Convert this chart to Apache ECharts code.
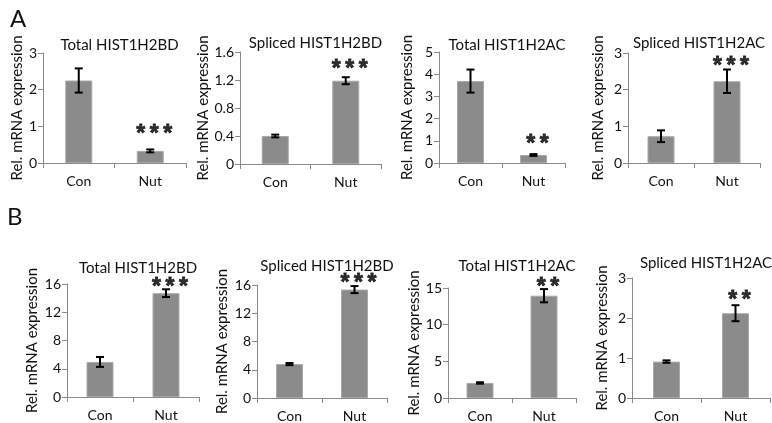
<!DOCTYPE html>
<html><head><meta charset="utf-8">
<script src="https://cdn.jsdelivr.net/npm/echarts@6/dist/echarts.min.js"></script>
<style>html,body{margin:0;padding:0;background:#fff}#c{width:772px;height:423px}</style>
</head><body><div id="c"></div>
<script>
const titles = ['Total HIST1H2BD','Spliced HIST1H2BD','Total HIST1H2AC','Spliced HIST1H2AC',
                'Total HIST1H2BD','Spliced HIST1H2BD','Total HIST1H2AC','Spliced HIST1H2AC'];
const categories = ['Con','Nut'];
const means = [[2.25,0.33],[0.40,1.19],[3.69,0.36],[0.73,2.23],[4.96,14.7],[4.8,15.35],[2.05,13.95],[0.91,2.12]];
const errors = [[0.33,0.04],[0.02,0.05],[0.52,0.04],[0.16,0.32],[0.7,0.55],[0.15,0.5],[0.1,0.9],[0.03,0.2]];
const stars = ['***','***','**','***','***','***','**','**'];
const starLevels = [0.95,1.43,1.08,2.78,16.3,17.0,15.8,2.58];
const yMax = [3,1.6,5,3,16,16,15,3];
const yInterval = [1,0.4,1,1,4,4,5,1];
const yLabel = 'Rel. mRNA expression';
const panelLetters = ['A','B'];

// layout (pixels)
const layout = [
  {left:43,top:53,width:143,height:110,gap:17,ty:33},
  {left:240,top:52,width:141,height:112,gap:25,ty:31},
  {left:439,top:52,width:126,height:111,gap:24,ty:33},
  {left:628,top:53,width:132,height:110,gap:22,ty:31},
  {left:67,top:284,width:132,height:113,gap:27,ty:256},
  {left:257,top:285,width:130,height:113,gap:27,ty:254},
  {left:448,top:288,width:128,height:110,gap:26,ty:254},
  {left:632,top:278,width:138,height:120,gap:22,ty:251}
];
const FONT = 'Lato';
const axisColor = '#8a8a8a';
const grid=[], xAxis=[], yAxis=[], series=[], title=[];
layout.forEach((L,i)=>{
  grid.push({left:L.left, top:L.top, width:L.width, height:L.height});
  title.push({text:titles[i], left:L.left+L.width/2, top:L.ty, textAlign:'center',
    textStyle:{fontFamily:FONT,fontSize:15,fontWeight:'normal',color:'#111'}});
  xAxis.push({type:'category', gridIndex:i, data:categories,
    axisLine:{lineStyle:{color:axisColor,width:1}},
    axisTick:{show:true,alignWithLabel:false,length:5,lineStyle:{color:axisColor}},
    axisLabel:{fontFamily:FONT,fontSize:14,color:'#111',margin:11}});
  yAxis.push({type:'value', gridIndex:i, min:0, max:yMax[i], interval:yInterval[i],
    name:yLabel, nameLocation:'middle', nameGap:L.gap,
    nameTextStyle:{fontFamily:FONT,fontSize:15,color:'#111'},
    axisLine:{show:true,lineStyle:{color:axisColor,width:1}},
    axisTick:{show:true,length:5,lineStyle:{color:axisColor}},
    splitLine:{show:false},
    axisLabel:{fontFamily:FONT,fontSize:14,color:'#111',margin:6}});
  series.push({type:'bar', xAxisIndex:i, yAxisIndex:i, data:means[i], barWidth:27,
    itemStyle:{color:'#8b8b8b',borderColor:'#a8a8a8',borderWidth:1}, z:2});
  series.push({type:'custom', xAxisIndex:i, yAxisIndex:i, z:5,
    data:means[i].map((m,j)=>[j,m,errors[i][j]]),
    renderItem:function(params,api){
      const x=api.value(0), m=api.value(1), e=api.value(2);
      const t=api.coord([x,m+e]), b=api.coord([x,m-e]);
      const cw=4, st={stroke:'#000',lineWidth:2};
      return {type:'group',children:[
        {type:'line',shape:{x1:t[0],y1:t[1],x2:b[0],y2:b[1]},style:st},
        {type:'line',shape:{x1:t[0]-cw,y1:t[1],x2:t[0]+cw,y2:t[1]},style:st},
        {type:'line',shape:{x1:b[0]-cw,y1:b[1],x2:b[0]+cw,y2:b[1]},style:st}
      ]};
    }});
  series.push({type:'scatter', xAxisIndex:i, yAxisIndex:i, symbolSize:0, clip:false, z:6,
    data:[[1,starLevels[i]]],
    label:{show:true,position:'inside',formatter:stars[i].split('').join('\u2009'),offset:[4,6],
      fontFamily:'Liberation Sans',fontSize:23,fontWeight:'bold',color:'#000',
      textBorderColor:'#000',textBorderWidth:0.8}});
});
title.push({text:panelLetters[0],left:5,top:2,textStyle:{fontFamily:FONT,fontSize:24,fontWeight:'normal',color:'#111'}});
title.push({text:panelLetters[1],left:2,top:200,textStyle:{fontFamily:FONT,fontSize:24,fontWeight:'normal',color:'#111'}});
const chart = echarts.init(document.getElementById('c'),null,{renderer:'canvas'});
chart.setOption({animation:false,backgroundColor:'#fff',title,grid,xAxis,yAxis,series});
</script></body></html>
